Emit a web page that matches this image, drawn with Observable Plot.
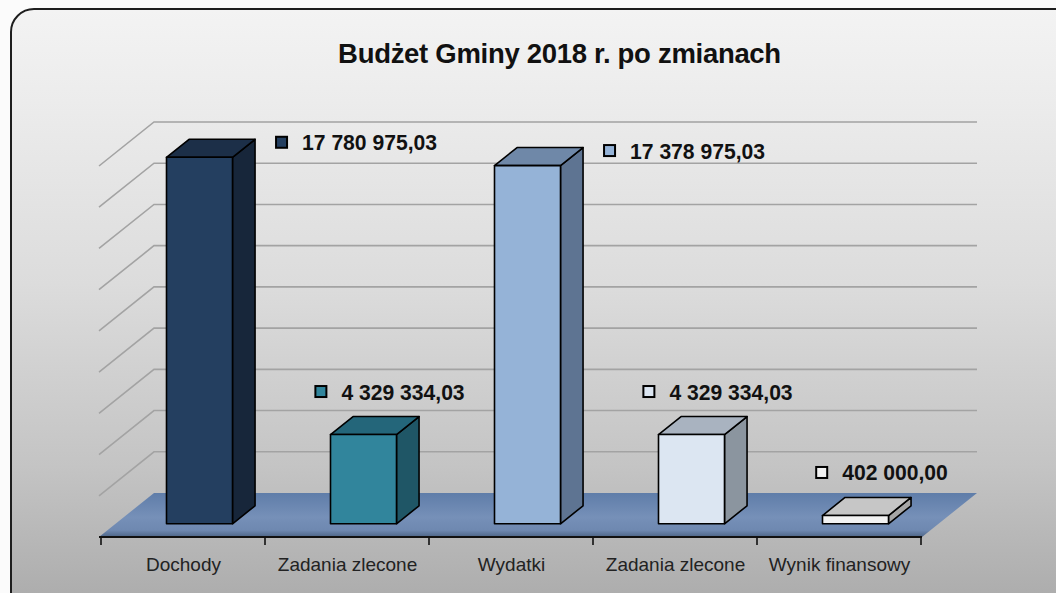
<!DOCTYPE html>
<html><head><meta charset="utf-8">
<script src="https://cdn.jsdelivr.net/npm/d3@7"></script>
<script src="https://cdn.jsdelivr.net/npm/@observablehq/plot@0.6"></script>
<style>
html,body{margin:0;padding:0;background:#fbfbfb;}
body{width:1056px;height:593px;overflow:hidden;position:relative;font-family:"Liberation Sans",Arial,sans-serif;}
#box{position:absolute;left:10px;top:8px;width:1072px;height:612px;box-sizing:border-box;border:2px solid #1e1e1e;border-radius:24px;
 background:linear-gradient(to bottom,#f3f3f3 0%,#ececec 15%,#dcdcdc 45%,#c4c4c4 75%,#a9a9a9 100%);}
#title{position:absolute;left:0;top:40px;width:1119px;text-align:center;font:bold 27.5px/27px "Liberation Sans",Arial,sans-serif;color:#111;letter-spacing:-0.3px;}
#chart{position:absolute;left:0;top:0;}
</style></head>
<body>
<div id="box"></div>
<div id="title">Budżet Gminy 2018 r. po zmianach</div>
<div id="chart"></div>
<script>
// ---- data ----
const categories = ["Dochody", "Zadania zlecone (dochody)", "Wydatki", "Zadania zlecone (wydatki)", "Wynik finansowy"];
const tickLabels = ["Dochody", "Zadania zlecone", "Wydatki", "Zadania zlecone", "Wynik finansowy"];
const values = [17780975.03, 4329334.03, 17378975.03, 4329334.03, 402000.00];
const gridValues = [2e6, 4e6, 6e6, 8e6, 10e6, 12e6, 14e6, 16e6, 18e6];
const yMax = 18e6;

// ---- styles ----
const frontFill = ["#243f60", "#31859c", "#95b3d7", "#dce6f2", "#f2f2f2"];
const topFill   = ["#1c2f48", "#24667a", "#6f88a8", "#a9b3c0", "#c6c6c6"];
const sideFill  = ["#17263a", "#1f5666", "#5e7492", "#8b959f", "#a6a6a6"];
const DEPTH = {dx: 55, dy: -44}, BAR_FRONT = 0.3, BAR_BACK = 0.71;
const LABEL_SCALE_X = 0.96;

const fmt = d3.formatLocale({decimal: ",", thousands: "\u00a0", grouping: [3], currency: ["", ""]}).format(",.2f");

function scene3d(index, scales) {
  const sx = scales.x, sy = scales.y;
  const bw = sx.bandwidth(), step = sx.step();
  const P = (x, y, d) => [x + d * DEPTH.dx, y + d * DEPTH.dy];
  const [x0, x1] = sx.range();
  const y0 = sy(0);
  const g = d3.create("svg:g");
  const defs = g.append("defs");
  const lg = defs.append("linearGradient").attr("id", "floorGrad").attr("x1", 0).attr("y1", 0).attr("x2", 0).attr("y2", 1);
  lg.append("stop").attr("offset", "0%").attr("stop-color", "#5f7da9");
  lg.append("stop").attr("offset", "55%").attr("stop-color", "#7690b8");
  lg.append("stop").attr("offset", "85%").attr("stop-color", "#6e88b0");
  lg.append("stop").attr("offset", "100%").attr("stop-color", "#4d6587");
  const poly = pts => pts.map(p => p.join(",")).join(" ");
  // gridlines: back wall + left wall
  for (const v of gridValues) {
    const y = sy(v);
    g.append("polyline").attr("points", poly([P(x0, y, 0), P(x0, y, 1), P(x1, y, 1)]))
      .attr("fill", "none").attr("stroke", "#a3a3a3").attr("stroke-width", 1.6);
  }
  // floor
  g.append("polygon").attr("points", poly([P(x0, y0, 0), P(x1, y0, 0), P(x1, y0, 1), P(x0, y0, 1)]))
    .attr("fill", "url(#floorGrad)");
  // axis line + boundary ticks
  g.append("line").attr("x1", x0).attr("x2", x1).attr("y1", y0).attr("y2", y0).attr("stroke", "#111").attr("stroke-width", 2);
  const pad = (step - bw) / 2;
  const bounds = categories.map(c => sx(c) - pad).concat([sx(categories[categories.length - 1]) + bw + pad]);
  for (const b of bounds) g.append("line").attr("x1", b).attr("x2", b).attr("y1", y0).attr("y2", y0 + 8).attr("stroke", "#111").attr("stroke-width", 1.6);
  // bars
  categories.forEach((c, i) => {
    const xl = sx(c), xr = xl + bw, yv = sy(values[i]);
    const common = s => s.attr("stroke", "#000").attr("stroke-width", 1.6).attr("stroke-linejoin", "round");
    common(g.append("polygon").attr("points", poly([P(xr, yv, BAR_FRONT), P(xr, y0, BAR_FRONT), P(xr, y0, BAR_BACK), P(xr, yv, BAR_BACK)])).attr("fill", sideFill[i]));
    common(g.append("polygon").attr("points", poly([P(xl, yv, BAR_FRONT), P(xr, yv, BAR_FRONT), P(xr, yv, BAR_BACK), P(xl, yv, BAR_BACK)])).attr("fill", topFill[i]));
    common(g.append("polygon").attr("points", poly([P(xl, yv, BAR_FRONT), P(xr, yv, BAR_FRONT), P(xr, y0, BAR_FRONT), P(xl, y0, BAR_FRONT)])).attr("fill", frontFill[i]));
  });
  // value labels
  categories.forEach((c, i) => {
    const xl = sx(c), xr = xl + bw, yv = sy(values[i]);
    const [bxR, byTop] = P(xr, yv, BAR_BACK);
    const lab = g.append("g").attr("class", "vlabel");
    const rect = lab.append("rect").attr("width", 11).attr("height", 11).attr("fill", frontFill[i]).attr("stroke", "#000").attr("stroke-width", 2);
    const text = lab.append("text").text(fmt(values[i]))
      .attr("text-anchor", "start")
      .attr("font-family", "'Liberation Sans',Arial,sans-serif")
      .attr("font-weight", "bold").attr("font-size", 22).attr("fill", "#111");
    if (values[i] > 0.9 * yMax) {
      const sxp = bxR + 21, yc = byTop + 3;
      rect.attr("x", sxp).attr("y", yc - 5.5);
      text.attr("transform", `translate(${sxp + 26},${yc + 8}) scale(${LABEL_SCALE_X},1)`);
    } else {
      const cx = (xl + xr) / 2 + BAR_BACK * DEPTH.dx + 4, yc = byTop - 25;
      lab.attr("data-cx", cx).attr("data-yc", yc);
      rect.attr("y", yc - 5.5);
    }
  });
  return g.node();
}

const chart = Plot.plot({
  width: 1056, height: 593,
  marginLeft: 99, marginRight: 134, marginTop: 166, marginBottom: 56,
  style: {background: "transparent", overflow: "visible", fontFamily: "'Liberation Sans',Arial,sans-serif"},
  x: {type: "band", domain: categories, paddingInner: 0.6, paddingOuter: 0.3},
  y: {domain: [0, yMax], axis: null},
  marks: [
    scene3d,
    Plot.axisX({tickSize: 0, tickPadding: 20, fontSize: 19, fill: "#222", tickFormat: d => tickLabels[categories.indexOf(d)]})
  ]
});
document.getElementById("chart").append(chart);
// center "above" labels (square + text) on their anchor
chart.querySelectorAll(".vlabel[data-cx]").forEach(el => {
  const cx = +el.getAttribute("data-cx"), yc = +el.getAttribute("data-yc");
  const t = el.querySelector("text"), r = el.querySelector("rect");
  const w = t.getComputedTextLength() * LABEL_SCALE_X;
  const start = cx - (26 + w) / 2;
  r.setAttribute("x", start);
  t.setAttribute("transform", `translate(${start + 26},${yc + 8}) scale(${LABEL_SCALE_X},1)`);
});
</script>
</body></html>
